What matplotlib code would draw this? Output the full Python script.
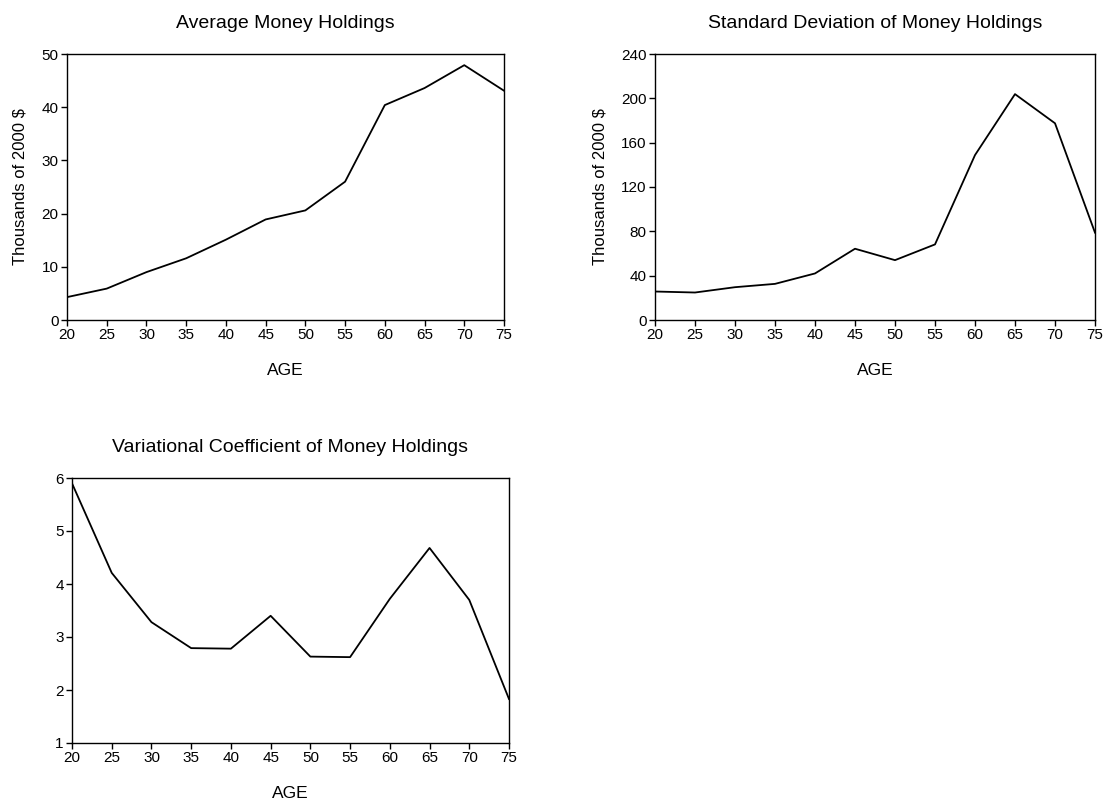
import numpy as np
import matplotlib.pyplot as plt

plt.rcParams['font.family'] = ['Liberation Sans', 'DejaVu Sans']

ages = [20, 25, 30, 35, 40, 45, 50, 55, 60, 65, 70, 75]
mean_money = [4.3, 5.9, 9.0, 11.6, 15.1, 18.9, 20.6, 26.0, 40.4, 43.6, 47.9, 43.1]
std_money = [25.7, 24.8, 29.6, 32.6, 42.0, 64.3, 54.0, 68.2, 148.8, 203.8, 177.5, 78.8]
cv_money = [5.9, 4.21, 3.28, 2.79, 2.78, 3.40, 2.63, 2.62, 3.72, 4.68, 3.70, 1.83]

fig = plt.figure(figsize=(11.06, 8), dpi=100)
W, H = 1106, 800


def panel(left, top, right, bottom, y, ylim, yticks, title, ylabel):
    # axes placed in pixel coords
    ax = fig.add_axes([left / W, 1 - bottom / H, (right - left) / W, (bottom - top) / H])
    ax.plot(ages, y, color='black', lw=1.3)
    ax.set_xlim(20, 75)
    ax.set_ylim(*ylim)
    ax.set_xticks(ages)
    ax.set_yticks(yticks)
    ax.tick_params(direction='out', length=4, width=1, labelsize=11, pad=2)
    for s in ax.spines.values():
        s.set_linewidth(1)
    ax.set_title(title, fontsize=14, pad=19)
    ax.set_xlabel('AGE', fontsize=12.5, labelpad=15)
    if ylabel:
        ax.set_ylabel(ylabel, fontsize=12, labelpad=10)
    return ax


panel(67, 54, 504, 320, mean_money, (0, 50), [0, 10, 20, 30, 40, 50],
      'Average Money Holdings', 'Thousands of 2000 $')
panel(655, 54, 1095, 320, std_money, (0, 240), [0, 40, 80, 120, 160, 200, 240],
      'Standard Deviation of Money Holdings', 'Thousands of 2000 $')
panel(72, 478, 509, 743, cv_money, (1, 6), [1, 2, 3, 4, 5, 6],
      'Variational Coefficient of Money Holdings', None)

fig.savefig('out.png', dpi=100)
